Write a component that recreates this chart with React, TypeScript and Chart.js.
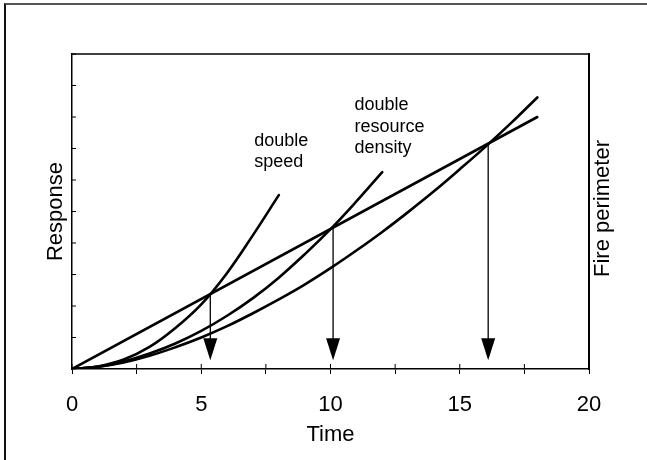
import React, { useEffect, useRef } from 'react';
import { Chart, registerables } from 'chart.js';

Chart.register(...registerables);

const FONT = '"Liberation Sans", Arial, Helvetica, sans-serif';

// ---- data ----
const xTickLabels = ['0', '5', '10', '15', '20'];

const lineTimes = [0, 18];
const lineValues = [0, 8.0];

const baseTimes = [0, 1, 2, 3, 4, 5, 6, 7, 8, 9, 10, 11, 12, 13, 14, 15, 16, 17, 18];
const baseValues = [0, 0.07, 0.21, 0.42, 0.69, 1.0, 1.36, 1.77, 2.21, 2.68, 3.2, 3.76, 4.35, 4.98, 5.64, 6.34, 7.06, 7.82, 8.62];

const densityTimes = [0, 1, 2, 3, 4, 5, 6, 7, 8, 9, 10, 11, 12];
const densityValues = [0, 0.07, 0.24, 0.49, 0.81, 1.21, 1.69, 2.25, 2.9, 3.64, 4.44, 5.32, 6.25];

const speedTimes = [0, 1, 2, 3, 4, 5, 6, 7, 8];
const speedValues = [0, 0.08, 0.3, 0.7, 1.3, 2.05, 3.05, 4.25, 5.52];

const arrowTimes = [5.35, 10.1, 16.1];
const arrowFrom = [2.38, 4.49, 7.16];
const arrowTo = [0.28, 0.28, 0.28];

const noteLines = [['double', 'speed'], ['double', 'resource', 'density']];
const noteTimes = [7.05, 10.93];
const noteValues = [7.08, 8.22];

const toPoints = (xs: number[], ys: number[]) => xs.map((x, i) => ({ x, y: ys[i] }));

const extrasPlugin = {
  id: 'extras',
  afterDatasetsDraw(chart: any) {
    const { ctx, chartArea, scales } = chart;
    const x = scales.x;
    const y = scales.y;
    ctx.save();
    ctx.strokeStyle = '#000';
    ctx.fillStyle = '#000';
    // top border
    ctx.lineWidth = 1.5;
    ctx.beginPath();
    ctx.moveTo(chartArea.left, chartArea.top);
    ctx.lineTo(chartArea.right, chartArea.top);
    ctx.stroke();
    // inner tick marks
    ctx.lineWidth = 1;
    x.ticks.forEach((t: any) => {
      const px = x.getPixelForValue(t.value);
      ctx.beginPath();
      ctx.moveTo(px, chartArea.bottom);
      ctx.lineTo(px, chartArea.bottom - 5);
      ctx.stroke();
    });
    y.ticks.forEach((t: any) => {
      const py = y.getPixelForValue(t.value);
      ctx.beginPath();
      ctx.moveTo(chartArea.left, py);
      ctx.lineTo(chartArea.left + 4, py);
      ctx.stroke();
    });
    // arrows
    arrowTimes.forEach((t, i) => {
      const px = x.getPixelForValue(t);
      const y0 = y.getPixelForValue(arrowFrom[i]);
      const y1 = y.getPixelForValue(arrowTo[i]);
      const headH = 22;
      const headW = 7;
      ctx.lineWidth = 1.3;
      ctx.beginPath();
      ctx.moveTo(px, y0);
      ctx.lineTo(px, y1 - headH + 2);
      ctx.stroke();
      ctx.beginPath();
      ctx.moveTo(px - headW, y1 - headH);
      ctx.lineTo(px + headW, y1 - headH);
      ctx.lineTo(px, y1);
      ctx.closePath();
      ctx.fill();
    });
    // annotations
    ctx.font = `18px ${FONT}`;
    ctx.textAlign = 'left';
    ctx.textBaseline = 'alphabetic';
    noteLines.forEach((lines, i) => {
      const px = x.getPixelForValue(noteTimes[i]);
      const py = y.getPixelForValue(noteValues[i]);
      lines.forEach((s, j) => ctx.fillText(s, px, py + j * 21.5));
    });
    // right axis title (reads bottom to top)
    const y2 = scales.y2;
    ctx.font = `22px ${FONT}`;
    ctx.textAlign = 'center';
    ctx.textBaseline = 'middle';
    ctx.translate(y2.left + 14, (chartArea.top + chartArea.bottom) / 2 - 3);
    ctx.rotate(-Math.PI / 2);
    ctx.fillText('Fire perimeter', 0, 0);
    ctx.restore();
  },
};

export default function App() {
  const ref = useRef<HTMLCanvasElement | null>(null);

  useEffect(() => {
    if (!ref.current) return;
    const common = {
      showLine: true,
      borderColor: '#000',
      backgroundColor: '#000',
      borderWidth: 2.6,
      pointRadius: 0,
      fill: false,
      tension: 0.4,
      borderCapStyle: 'round' as const,
      borderJoinStyle: 'round' as const,
    };
    const chart = new Chart(ref.current, {
      type: 'scatter',
      data: {
        datasets: [
          { ...common, tension: 0, data: toPoints(lineTimes, lineValues) },
          { ...common, data: toPoints(baseTimes, baseValues) },
          { ...common, data: toPoints(densityTimes, densityValues) },
          { ...common, data: toPoints(speedTimes, speedValues) },
        ],
      },
      options: {
        responsive: false,
        animation: false,
        layout: { padding: { top: 54, left: 0, right: 0, bottom: 0 } },
        plugins: { legend: { display: false }, tooltip: { enabled: false } },
        scales: {
          x: {
            type: 'linear',
            position: 'bottom',
            min: 0,
            max: 20,
            offset: false,
            afterFit: (s: any) => { s.height = 91; },
            border: { display: true, color: '#000', width: 1.5 },
            grid: { display: true, drawOnChartArea: false, drawTicks: true, tickLength: 5, color: '#000', lineWidth: 1 },
            ticks: {
              stepSize: 2.5,
              autoSkip: false,
              maxRotation: 0,
              padding: 18,
              color: '#000',
              font: { family: FONT, size: 22 },
              callback: (v: any) => {
                const idx = xTickLabels.indexOf(String(v));
                return idx >= 0 ? xTickLabels[idx] : '';
              },
            },
            title: {
              display: true,
              text: 'Time',
              color: '#000',
              font: { family: FONT, size: 22 },
              padding: { top: 0, bottom: 12 },
            },
          },
          y: {
            type: 'linear',
            position: 'left',
            min: 0,
            max: 10,
            afterFit: (s: any) => { s.width = 72; },
            border: { display: true, color: '#000', width: 1.5 },
            grid: { display: false },
            ticks: { stepSize: 1, display: false },
            title: {
              display: true,
              text: 'Response',
              color: '#000',
              font: { family: FONT, size: 22 },
              padding: { top: 43, bottom: 0 },
            },
          },
          y2: {
            type: 'linear',
            position: 'right',
            min: 0,
            max: 10,
            afterFit: (s: any) => { s.width = 58; },
            border: { display: true, color: '#000', width: 2 },
            grid: { display: false },
            ticks: { display: false },
          },
        },
      },
      plugins: [extrasPlugin],
    });
    return () => chart.destroy();
  }, []);

  return (
    <div style={{ position: 'fixed', left: 0, top: 0, width: 647, height: 460, background: '#fff' }}>
      <div
        style={{
          position: 'absolute',
          left: 4,
          top: 3,
          width: 643,
          height: 457,
          borderTop: '2px solid #555',
          borderLeft: '2px solid #111',
          boxSizing: 'border-box',
        }}
      />
      <canvas ref={ref} width={647} height={460} style={{ position: 'absolute', left: 0, top: 0 }} />
    </div>
  );
}
